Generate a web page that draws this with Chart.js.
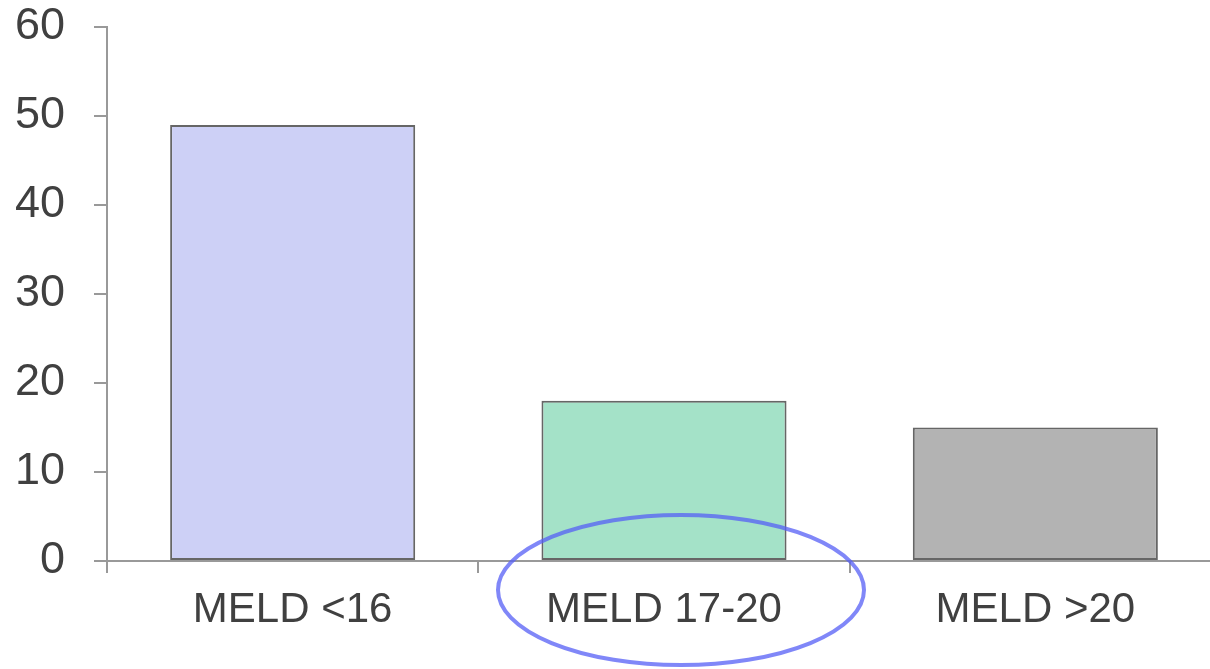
<!DOCTYPE html>
<html>
<head>
<meta charset="utf-8">
<script src="https://cdn.jsdelivr.net/npm/chart.js@4/dist/chart.umd.min.js"></script>
<style>
  html, body { margin: 0; padding: 0; background: #fff; overflow: hidden; }
  #wrap { width: 1221px; height: 669px; position: relative; }
</style>
</head>
<body>
<div id="wrap"><canvas id="meldChart"></canvas></div>
<script>
const categories = ["MELD <16", "MELD 17-20", "MELD >20"];
const values = [49, 18, 15];
const barColors = ["#cdd0f6", "#a4e2c8", "#b3b3b3"];
const yTicks = [0, 10, 20, 30, 40, 50, 60];
const highlightIndex = 1;

// ellipse round the highlighted category label
const ringPlugin = {
    id: "ring",
    afterDraw(chart) {
        const x = chart.scales.x.getPixelForValue(highlightIndex);
        const y = chart.chartArea.bottom + 29;
        const ctx = chart.ctx;
        ctx.save();
        ctx.beginPath();
        ctx.ellipse(x + 17, y, 183, 75, 0, 0, Math.PI * 2);
        ctx.strokeStyle = "rgba(85, 95, 245, 0.75)";
        ctx.lineWidth = 4;
        ctx.stroke();
        ctx.restore();
    }
};

new Chart(document.getElementById("meldChart").getContext("2d"), {
    type: "bar",
    data: {
        labels: categories,
        datasets: [{
            data: values,
            backgroundColor: barColors,
            borderColor: "#666666",
            borderWidth: 2,
            borderSkipped: false,
            categoryPercentage: 1,
            barPercentage: 0.66
        }]
    },
    options: {
        responsive: true,
        maintainAspectRatio: false,
        animation: false,
        layout: { padding: 0 },
        plugins: { legend: { display: false }, tooltip: { enabled: false } },
        scales: {
            x: {
                offset: true,
                grid: { offset: true, drawOnChartArea: false, drawTicks: true, tickLength: 12, color: "#999999", lineWidth: 2 },
                border: { color: "#999999", width: 2 },
                ticks: { color: "#404040", font: { family: "Liberation Sans, Arial, sans-serif", size: 42 }, padding: 12 },
                afterFit(scale) { scale.height = 108; }
            },
            y: {
                min: 0,
                max: 60,
                afterBuildTicks(scale) { scale.ticks = yTicks.map(v => ({ value: v })); },
                grid: { drawOnChartArea: false, drawTicks: true, tickLength: 13, color: "#999999", lineWidth: 2 },
                border: { color: "#999999", width: 2 },
                ticks: { color: "#404040", font: { family: "Liberation Sans, Arial, sans-serif", size: 45 }, padding: 29 },
                afterFit(scale) { scale.width = 107; scale.paddingTop = 27; scale.paddingBottom = 0; }
            }
        }
    },
    plugins: [ringPlugin]
});
</script>
</body>
</html>
